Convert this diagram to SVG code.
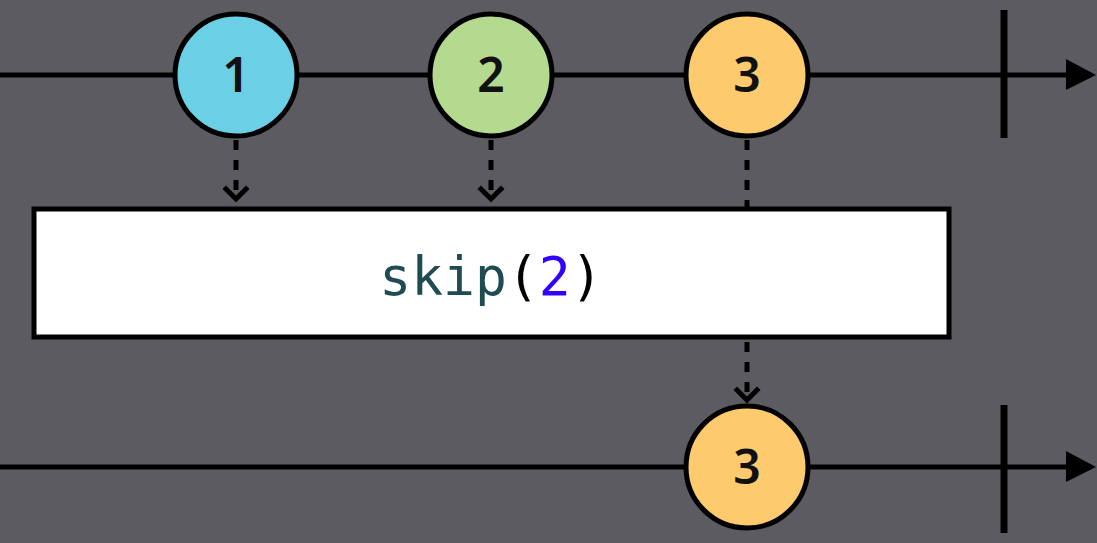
<svg xmlns="http://www.w3.org/2000/svg" width="1097" height="543" viewBox="0 0 1097 543">
<style>
.line{stroke:#000;stroke-width:5;fill:none}
.tick{stroke:#000;stroke-width:7;fill:none}
.dash{stroke:#000;stroke-width:5;stroke-dasharray:10 10;fill:none}
.chev{stroke:#000;stroke-width:5;fill:none;stroke-linecap:square}
.node circle{stroke:#000;stroke-width:5}
.num{font-family:"Noto Sans","Liberation Sans",sans-serif;font-size:48px;font-weight:600;fill:#111;text-anchor:middle}
.op{font-family:"DejaVu Sans Mono","Liberation Mono",monospace;font-size:53px;text-anchor:middle}
</style>
<rect width="1097" height="543" fill="#5c5b61"/>
<g id="connectors">
  <line class="line" x1="0" y1="75" x2="1070" y2="75"/>
  <polygon points="1066,59 1096,75 1066,90" fill="#000"/>
  <line class="tick" x1="1004" y1="10" x2="1004" y2="138"/>
  <line class="line" x1="0" y1="467" x2="1070" y2="467"/>
  <polygon points="1066,451 1096,467 1066,482" fill="#000"/>
  <line class="tick" x1="1004" y1="405" x2="1004" y2="533"/>
  <line class="dash" x1="236" y1="140" x2="236" y2="198"/>
  <polyline class="chev" points="226,189 236,199 246,189"/>
  <line class="dash" x1="491" y1="140" x2="491" y2="198"/>
  <polyline class="chev" points="481,189 491,199 501,189"/>
  <line class="dash" x1="747" y1="140" x2="747" y2="208"/>
  <line class="dash" x1="747" y1="342" x2="747" y2="398"/>
  <polyline class="chev" points="737,390 747,400 757,390"/>
</g>
<g id="n1" class="node"><circle cx="236" cy="75" r="61" fill="#6bcfe6"/><text class="num" x="236" y="92">1</text></g>
<g id="n2" class="node"><circle cx="491" cy="75" r="61" fill="#b3da8f"/><text class="num" x="491" y="92">2</text></g>
<g id="n3" class="node"><circle cx="747" cy="75" r="61" fill="#fdca6e"/><text class="num" x="747" y="92">3</text></g>
<g id="op">
  <rect x="34" y="209" width="915" height="128" fill="#fff" stroke="#000" stroke-width="5"/>
  <text class="op" x="491" y="295"><tspan fill="#1f4b52">skip</tspan><tspan fill="#000">(</tspan><tspan fill="#3300ff">2</tspan><tspan fill="#000">)</tspan></text>
</g>
<g id="out3" class="node"><circle cx="747" cy="467" r="61" fill="#fdca6e"/><text class="num" x="747" y="484">3</text></g>
</svg>
